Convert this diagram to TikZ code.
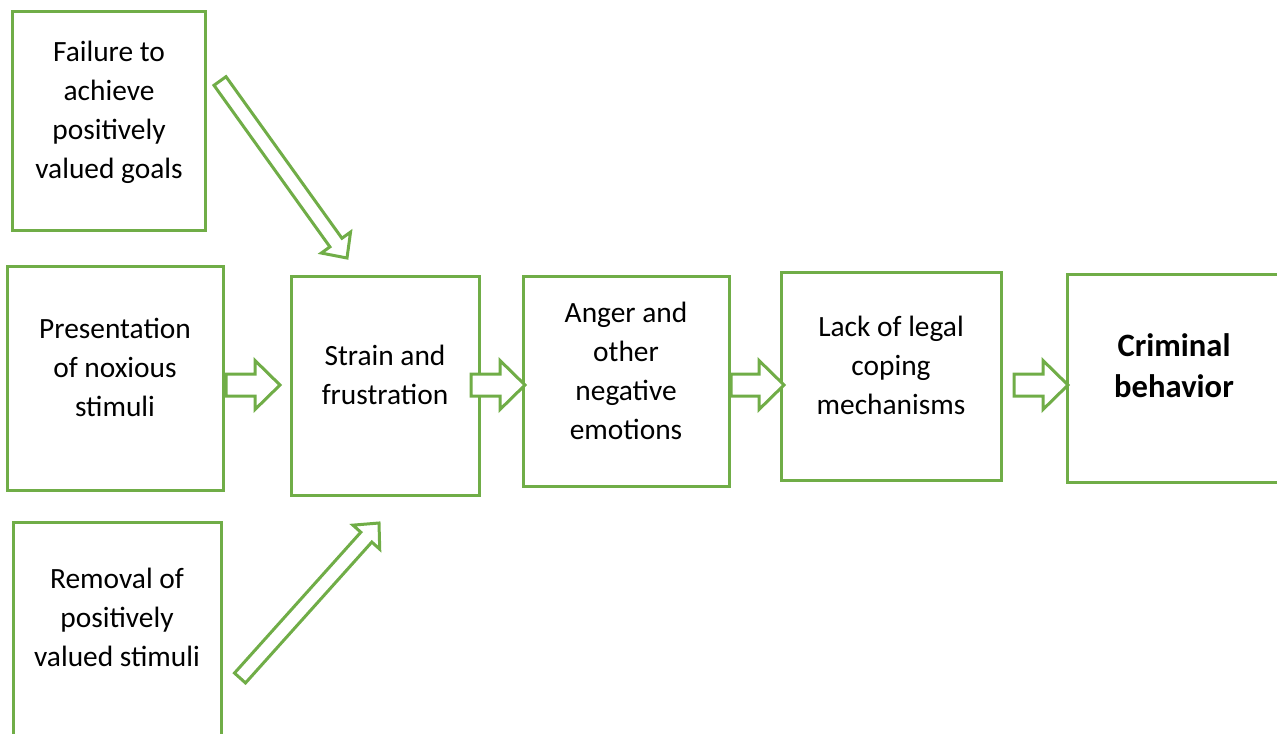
\documentclass[tikz,border=0pt]{standalone}
\usepackage{fontspec}
\setmainfont{Carlito}
\usetikzlibrary{calc,fit}
\definecolor{lgreen}{HTML}{70AD47}
\tikzset{
  box/.style={draw=lgreen, line width=1.5pt, inner sep=0pt},
  lbl/.style={align=center, font=\fontsize{14.7pt}{19.5pt}\selectfont, inner sep=0pt},
  blbl/.style={align=center, font=\fontsize{16.3pt}{20.5pt}\selectfont\bfseries, inner sep=0pt},
  barrow/.style={draw=lgreen, line width=1.5pt, fill=white, line join=miter},
}
\newcommand\blockarrow[5]{%
  \coordinate (ba-h) at ($(#2)!#5!(#1)$);
  \filldraw[barrow] ($(#1)!#3!90:(#2)$) -- ($(ba-h)!#3!90:(#2)$) -- ($(ba-h)!#4!90:(#2)$)
    -- (#2) -- ($(ba-h)!#4!-90:(#2)$) -- ($(ba-h)!#3!-90:(#2)$) -- ($(#1)!#3!-90:(#2)$) -- cycle;
}
\begin{document}
\begin{tikzpicture}[x=0.5pt,y=-0.5pt]
\useasboundingbox (0,0) rectangle (1277,733);
\clip (0,0) rectangle (1277,733);
% boxes
\node[box, fit={(12,12) (205,230)}] (b1) {};
\node[box, fit={(7,266) (223,490)}] (b2) {};
\node[box, fit={(13,522) (221,760)}] (b3) {};
\node[box, fit={(291,276) (479,495)}] (b4) {};
\node[box, fit={(523,276) (729,486)}] (b5) {};
\node[box, fit={(781,272) (1001,480)}] (b6) {};
\node[box, fit={(1067,274) (1300,482)}] (b7) {};
% labels
\node[lbl] (t1) at (109,112) {Failure to\\achieve\\positively\\valued goals};
\node[lbl] (t2) at (115,367) {Presentation\\of noxious\\stimuli};
\node[lbl] (t3) at (117,617) {Removal of\\positively\\valued stimuli};
\node[lbl] (t4) at (385,375) {Strain and\\frustration};
\node[lbl] (t5) at (626,370.5) {Anger and\\other\\negative\\emotions};
\node[lbl] (t6) at (891,365) {Lack of legal\\coping\\mechanisms};
\node[blbl] (t7) at (1174,366) {Criminal\\behavior};
% arrow end points
\coordinate (a1s) at (226,385); \coordinate (a1e) at (280,385);
\coordinate (a2s) at (471,385); \coordinate (a2e) at (525,385);
\coordinate (a3s) at (731,385); \coordinate (a3e) at (784,385);
\coordinate (a4s) at (1014,385); \coordinate (a4e) at (1068,385);
\coordinate (d1s) at (220,81); \coordinate (d1e) at (347,258);
\coordinate (d2s) at (240,678); \coordinate (d2e) at (379,523);
% arrows
\blockarrow{a1s}{a1e}{5.5pt}{12.25pt}{12.5pt}
\blockarrow{a2s}{a2e}{5.5pt}{12.25pt}{12.5pt}
\blockarrow{a3s}{a3e}{5.5pt}{12.25pt}{12.5pt}
\blockarrow{a4s}{a4e}{5.5pt}{12.25pt}{12.5pt}
\blockarrow{d1s}{d1e}{3.7pt}{9pt}{9.5pt}
\blockarrow{d2s}{d2e}{3.7pt}{9pt}{9.5pt}
\end{tikzpicture}
\end{document}
